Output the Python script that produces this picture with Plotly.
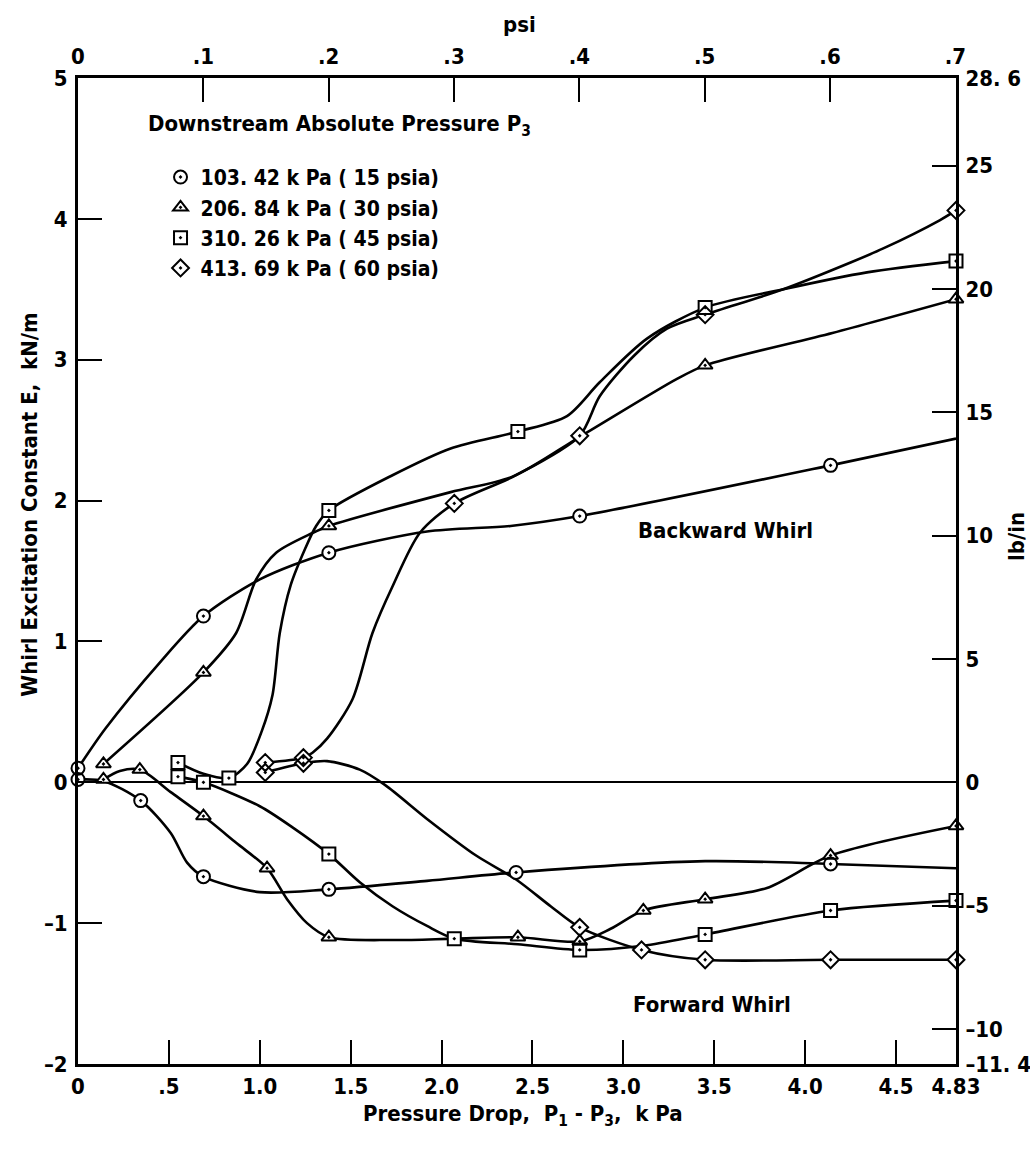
import plotly.graph_objects as go

# ---- unit conversions for the secondary axes ----
KPA_PER_PSI = 6.894757
LBIN_PER_KNM = 5.7101

# ---- 103.42 kPa (15 psia): circles ----
c15_back_mx = [0.0, 0.69, 1.38, 2.76, 4.14]
c15_back_my = [0.10, 1.18, 1.63, 1.89, 2.25]
c15_back_cx = [0.0, 0.15, 0.45, 0.69, 1.00, 1.38, 1.92, 2.38, 2.76, 4.14, 4.83]
c15_back_cy = [0.10, 0.38, 0.85, 1.18, 1.44, 1.63, 1.78, 1.82, 1.89, 2.25, 2.44]
c15_fwd_mx = [0.0, 0.345, 0.69, 1.38, 2.41, 4.14]
c15_fwd_my = [0.02, -0.13, -0.67, -0.76, -0.64, -0.58]
c15_fwd_cx = [0.0, 0.14, 0.345, 0.51, 0.60, 0.69, 1.00, 1.38, 1.92, 2.41, 3.45, 4.14, 4.83]
c15_fwd_cy = [0.02, 0.01, -0.13, -0.36, -0.57, -0.67, -0.78, -0.76, -0.70, -0.64, -0.56, -0.58, -0.61]

# ---- 206.84 kPa (30 psia): triangles ----
t30_back_mx = [0.14, 0.69, 1.38, 3.45, 4.83]
t30_back_my = [0.13, 0.78, 1.82, 2.96, 3.43]
t30_back_cx = [0.14, 0.69, 0.87, 0.98, 1.09, 1.29, 1.38, 2.05, 2.39, 2.77, 3.29, 3.45, 4.15, 4.83]
t30_back_cy = [0.13, 0.78, 1.06, 1.44, 1.63, 1.77, 1.82, 2.06, 2.17, 2.46, 2.86, 2.96, 3.19, 3.43]
t30_fwd_mx = [0.14, 0.34, 0.69, 1.04, 1.38, 2.42, 2.76, 3.11, 3.45, 4.14, 4.83]
t30_fwd_my = [0.02, 0.09, -0.24, -0.61, -1.10, -1.10, -1.13, -0.91, -0.83, -0.52, -0.31]
t30_fwd_cx = [0.14, 0.23, 0.34, 0.51, 0.69, 0.87, 1.04, 1.15, 1.26, 1.38, 1.73, 2.07, 2.42, 2.76, 2.93, 3.11, 3.45, 3.79, 4.14, 4.83]
t30_fwd_cy = [0.02, 0.08, 0.09, -0.07, -0.24, -0.43, -0.61, -0.83, -1.00, -1.10, -1.12, -1.11, -1.10, -1.13, -1.04, -0.91, -0.83, -0.75, -0.52, -0.31]

# ---- 310.26 kPa (45 psia): squares ----
s45_back_mx = [0.55, 0.83, 1.38, 2.42, 3.45, 4.83]
s45_back_my = [0.14, 0.03, 1.93, 2.49, 3.37, 3.70]
s45_back_cx = [0.55, 0.69, 0.83, 0.93, 1.01, 1.07, 1.11, 1.17, 1.25, 1.31, 1.38, 1.73, 2.05, 2.42, 2.69, 2.87, 3.13, 3.45, 3.88, 4.34, 4.83]
s45_back_cy = [0.14, 0.06, 0.03, 0.13, 0.36, 0.62, 1.06, 1.40, 1.66, 1.82, 1.93, 2.18, 2.37, 2.49, 2.60, 2.84, 3.15, 3.37, 3.50, 3.62, 3.70]
s45_fwd_mx = [0.55, 0.69, 1.38, 2.07, 2.76, 3.45, 4.14, 4.83]
s45_fwd_my = [0.04, 0.0, -0.51, -1.11, -1.19, -1.08, -0.91, -0.84]
s45_fwd_cx = [0.55, 0.69, 1.00, 1.18, 1.38, 1.55, 1.73, 1.92, 2.07, 2.42, 2.76, 3.11, 3.45, 4.14, 4.83]
s45_fwd_cy = [0.04, 0.0, -0.17, -0.32, -0.51, -0.71, -0.88, -1.02, -1.11, -1.15, -1.19, -1.16, -1.08, -0.91, -0.84]

# ---- 413.69 kPa (60 psia): diamonds ----
d60_back_mx = [1.03, 1.24, 2.07, 2.76, 3.45, 4.83]
d60_back_my = [0.14, 0.175, 1.98, 2.46, 3.32, 4.06]
d60_back_cx = [1.03, 1.24, 1.29, 1.37, 1.51, 1.62, 1.73, 1.88, 2.07, 2.41, 2.76, 2.87, 3.06, 3.24, 3.45, 3.88, 4.25, 4.43, 4.74, 4.83]
d60_back_cy = [0.14, 0.175, 0.21, 0.31, 0.59, 1.06, 1.39, 1.77, 1.98, 2.18, 2.46, 2.74, 3.03, 3.22, 3.32, 3.50, 3.69, 3.79, 3.99, 4.06]
d60_fwd_mx = [1.03, 1.24, 2.76, 3.10, 3.45, 4.14, 4.83]
d60_fwd_my = [0.07, 0.135, -1.03, -1.19, -1.26, -1.26, -1.26]
d60_fwd_cx = [1.03, 1.24, 1.37, 1.55, 1.69, 1.92, 2.19, 2.41, 2.60, 2.76, 3.10, 3.45, 4.14, 4.83]
d60_fwd_cy = [0.07, 0.135, 0.15, 0.09, -0.02, -0.26, -0.52, -0.69, -0.88, -1.03, -1.19, -1.26, -1.26, -1.26]

# ---- axis ticks ----
kpa_ticks = [0, 0.5, 1.0, 1.5, 2.0, 2.5, 3.0, 3.5, 4.0, 4.5, 4.83]
kpa_text = ["0", ".5", "1.0", "1.5", "2.0", "2.5", "3.0", "3.5", "4.0", "4.5", "4.83"]
psi_ticks = [0, 0.1, 0.2, 0.3, 0.4, 0.5, 0.6, 0.7]
psi_text = ["0", ".1", ".2", ".3", ".4", ".5", ".6", ".7"]
knm_ticks = [-2, -1, 0, 1, 2, 3, 4, 5]
knm_text = ["\u20132", "\u20131", "0", "1", "2", "3", "4", "5"]
lbin_ticks = [-11.42, -10, -5, 0, 5, 10, 15, 20, 25, 28.55]
lbin_text = ["\u201311. 4", "\u201310", "\u20135", "0", "5", "10", "15", "20", "25", "28. 6"]

legend_names = [
    "103. 42 k Pa ( 15 psia)",
    "206. 84 k Pa ( 30 psia)",
    "310. 26 k Pa ( 45 psia)",
    "413. 69 k Pa ( 60 psia)",
]

FONT = "DejaVu Sans Condensed, DejaVu Sans, sans-serif"
INK = "black"
X_MAX = 4.83
TXT = dict(family=FONT, size=22, color=INK, weight="bold")

series = [
    (legend_names[0], "circle",
     [(c15_back_cx, c15_back_cy), (c15_fwd_cx, c15_fwd_cy)],
     [(c15_back_mx, c15_back_my), (c15_fwd_mx, c15_fwd_my)]),
    (legend_names[1], "triangle-up",
     [(t30_back_cx, t30_back_cy), (t30_fwd_cx, t30_fwd_cy)],
     [(t30_back_mx, t30_back_my), (t30_fwd_mx, t30_fwd_my)]),
    (legend_names[2], "square",
     [(s45_back_cx, s45_back_cy), (s45_fwd_cx, s45_fwd_cy)],
     [(s45_back_mx, s45_back_my), (s45_fwd_mx, s45_fwd_my)]),
    (legend_names[3], "diamond",
     [(d60_back_cx, d60_back_cy), (d60_fwd_cx, d60_fwd_cy)],
     [(d60_back_mx, d60_back_my), (d60_fwd_mx, d60_fwd_my)]),
]

fig = go.Figure()

# faired curves first
for name, sym, curves, marks in series:
    for cx, cy in curves:
        fig.add_trace(go.Scatter(
            x=cx, y=cy, mode="lines", showlegend=False, hoverinfo="skip",
            line=dict(color=INK, width=2.6, shape="spline", smoothing=0.8),
            cliponaxis=False,
        ))

# white backing so the curves do not show through the open symbols
for name, sym, curves, marks in series:
    for mx, my in marks:
        fig.add_trace(go.Scatter(
            x=mx, y=my, mode="markers", showlegend=False, hoverinfo="skip",
            marker=dict(symbol=sym, size=13, color="white", line=dict(width=0)),
            cliponaxis=False,
        ))

# data symbols
for name, sym, curves, marks in series:
    for i, (mx, my) in enumerate(marks):
        fig.add_trace(go.Scatter(
            x=mx, y=my, mode="markers", name=name, showlegend=(i == 0),
            legendgroup=name,
            marker=dict(symbol=sym + "-open-dot", size=13, color=INK,
                        line=dict(width=2, color=INK)),
            cliponaxis=False,
        ))

# carrier for the psi / lb/in axes
fig.add_trace(go.Scatter(
    x=[0], y=[0], xaxis="x2", yaxis="y2", mode="markers", showlegend=False,
    hoverinfo="skip", marker=dict(opacity=0),
))

axis_common = dict(
    showline=True, linecolor=INK, linewidth=3, ticks="inside", ticklen=24,
    tickwidth=2, tickcolor=INK, showgrid=False, zeroline=False,
    tickfont=TXT, fixedrange=True, automargin=False,
)

fig.update_layout(
    width=1030, height=1152,
    margin=dict(l=78, r=74, t=78, b=88),
    paper_bgcolor="white", plot_bgcolor="white",
    font=TXT,
    xaxis=dict(range=[0, X_MAX], tickmode="array", tickvals=kpa_ticks,
               ticktext=kpa_text, ticklabelstandoff=1, **axis_common),
    xaxis2=dict(range=[0, X_MAX / KPA_PER_PSI], overlaying="x", side="top",
                tickmode="array", tickvals=psi_ticks, ticktext=psi_text,
                ticklabelstandoff=2, **axis_common),
    yaxis=dict(range=[-2, 5], tickmode="array", tickvals=knm_ticks,
               ticktext=knm_text, ticklabelstandoff=3,
               **{**axis_common, "zeroline": True},
               zerolinecolor=INK, zerolinewidth=2),
    yaxis2=dict(range=[-2 * LBIN_PER_KNM, 5 * LBIN_PER_KNM], overlaying="y",
                side="right", tickmode="array", tickvals=lbin_ticks,
                ticktext=lbin_text, ticklabelstandoff=2, **axis_common),
    legend=dict(x=0.094, y=0.920, xanchor="left", yanchor="top",
                bgcolor="rgba(0,0,0,0)",
                font=dict(family=FONT, size=21, color=INK, weight="bold"),
                itemclick=False, itemdoubleclick=False, tracegroupgap=0),
    showlegend=True,
)

annotations = [
    dict(text="psi", x=0.503, y=1.054, xref="paper", yref="paper",
         showarrow=False, xanchor="center", yanchor="middle"),
    dict(text="Whirl Excitation Constant E,  kN/m", x=-0.055, y=0.567,
         xref="paper", yref="paper", showarrow=False, textangle=-90,
         xanchor="center", yanchor="middle"),
    dict(text="lb/in", x=1.0695, y=0.5345, xref="paper", yref="paper",
         showarrow=False, textangle=-90, xanchor="center", yanchor="middle"),
    dict(text="Pressure Drop,  P<sub>1</sub> - P<sub>3</sub>,  k Pa", x=0.507,
         y=-0.052, xref="paper", yref="paper", showarrow=False,
         xanchor="center", yanchor="middle"),
    dict(text="Downstream Absolute Pressure P<sub>3</sub>", x=0.0774, y=0.952,
         xref="paper", yref="paper", showarrow=False, xanchor="left",
         yanchor="middle"),
    dict(text="Backward Whirl", x=3.56, y=1.79, xref="x", yref="y",
         showarrow=False, xanchor="center", yanchor="middle"),
    dict(text="Forward Whirl", x=3.49, y=-1.58, xref="x", yref="y",
         showarrow=False, xanchor="center", yanchor="middle"),
]
fig.update_layout(annotations=annotations)

fig.write_html("out.html")
